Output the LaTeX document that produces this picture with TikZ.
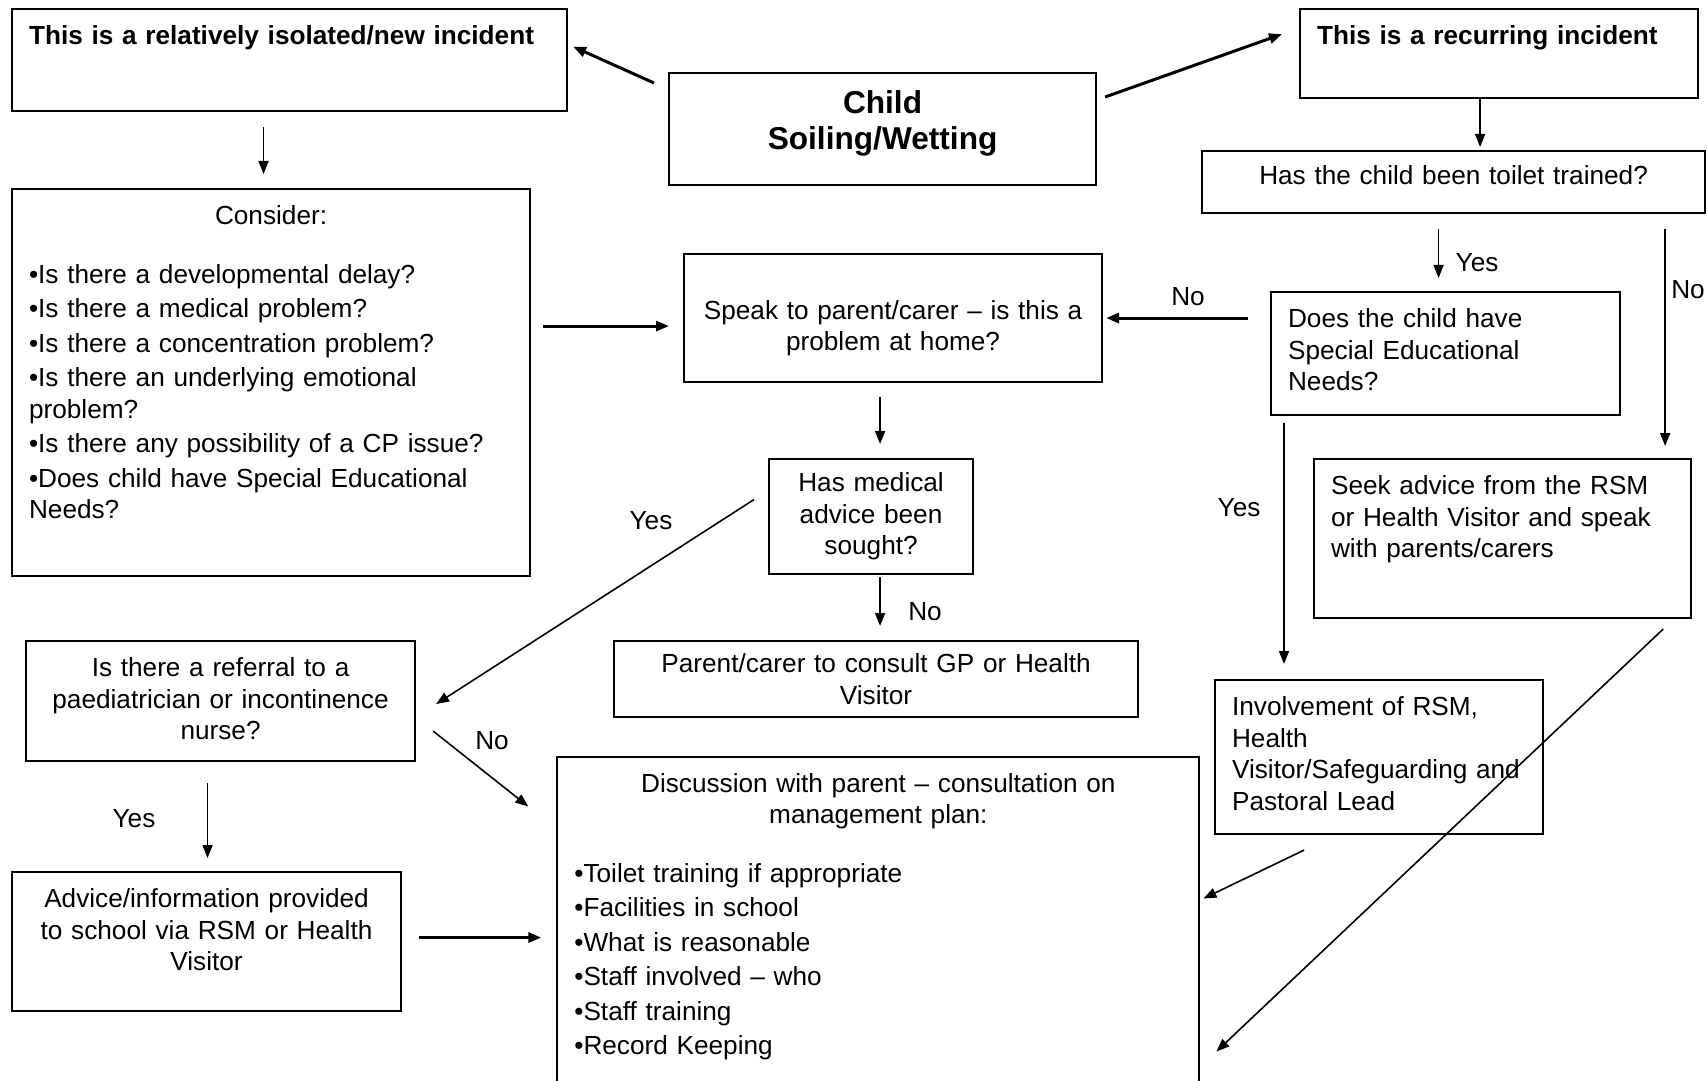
\documentclass[tikz,border=0pt]{standalone}
\usepackage{fontspec}
\setmainfont{Liberation Sans}
\usepackage{tikz}
\usetikzlibrary{arrows.meta, positioning, calc}

\begin{document}
\begin{tikzpicture}[
    font=\fontsize{7.45}{9}\selectfont,
    box/.style 2 args={draw, line width=0.6pt, anchor=north west, inner xsep=0.05cm, inner ysep=0pt, text width=#1cm-0.1cm, minimum height=#2cm, align=center},
    lbox/.style 2 args={box={#1}{#2}, inner xsep=0.17cm, text width=#1cm-0.34cm, align=left},
    topbox/.style 2 args={lbox={#1}{#2}, text height=0.355cm, text depth=#2cm-0.355cm},
    lbl/.style={inner sep=0pt},
    arrow/.style={-{Triangle[length=0.13cm, width=0.1cm]}, line width=0.45pt},
    bold arrow/.style={arrow, line width=0.85pt}
]
    \useasboundingbox (0,0) rectangle (17.07,-10.80);

    % Top row
    \node[topbox={5.55}{1.02}] (iso) at (0.11,-0.076) {\textbf{This is a relatively isolated/new incident}};
    \node[box={4.27}{1.12}, font=\fontsize{9}{10.5}\selectfont\bfseries, text height=0.4cm, text depth=0.72cm] (child) at (6.68,-0.72) {Child\\Soiling/Wetting};
    \node[topbox={3.98}{0.89}] (recur) at (12.99,-0.076) {\textbf{This is a recurring incident}};
    \node[box={5.03}{0.62}, text height=0.33cm, text depth=0.29cm] (toilet) at (12.01,-1.50) {Has the child been toilet trained?};

    % Left column
    \node[topbox={5.18}{3.87}] (consider) at (0.11,-1.88) {\makebox[\linewidth]{Consider:}\\[0.27cm]
        •Is there a developmental delay?\\[0.8pt]
        •Is there a medical problem?\\[0.8pt]
        •Is there a concentration problem?\\[0.8pt]
        •Is there an underlying emotional\\problem?\\[0.8pt]
        •Is there any possibility of a CP issue?\\[0.8pt]
        •Does child have Special Educational\\Needs?};
    \node[topbox={3.89}{1.20}, align=center] (referral) at (0.25,-6.40) {Is there a referral to a\\paediatrician or incontinence\\nurse?};
    \node[topbox={3.89}{1.39}, align=center] (advice) at (0.11,-8.71) {Advice/information provided\\to school via RSM or Health\\Visitor};

    % Middle column
    \node[box={4.18}{1.28}, text height=0.65cm, text depth=0.63cm] (speak) at (6.83,-2.53) {Speak to parent/carer -- is this a\\problem at home?};
    \node[box={2.04}{1.15}] (medical) at (7.68,-4.58) {Has medical\\advice been\\sought?};
    \node[box={5.24}{0.76}] (gp) at (6.13,-6.40) {Parent/carer to consult GP or Health\\Visitor};
    \node[topbox={6.42}{3.50}] (discuss) at (5.563,-7.555) {\makebox[\linewidth]{Discussion with parent -- consultation on}\\
        \makebox[\linewidth]{management plan:}\\[0.27cm]
        •Toilet training if appropriate\\[0.8pt]
        •Facilities in school\\[0.8pt]
        •What is reasonable\\[0.8pt]
        •Staff involved -- who\\[0.8pt]
        •Staff training\\[0.8pt]
        •Record Keeping};

    % Right column
    \node[topbox={3.49}{1.23}] (sen) at (12.70,-2.91) {Does the child have\\Special Educational\\Needs?};
    \node[topbox={3.77}{1.59}] (seek) at (13.13,-4.58) {Seek advice from the RSM\\or Health Visitor and speak\\with parents/carers};
    \node[topbox={3.28}{1.54}] (involve) at (12.14,-6.79) {Involvement of RSM,\\Health\\Visitor/Safeguarding~and\\Pastoral Lead};

    % Labels
    \node[lbl] (yes1) at (14.77,-2.63) {Yes};
    \node[lbl] (no1) at (16.88,-2.90) {No};
    \node[lbl] (no2) at (11.88,-2.97) {No};
    \node[lbl] (yes2) at (6.51,-5.21) {Yes};
    \node[lbl] (no3) at (9.25,-6.12) {No};
    \node[lbl] (yes3) at (12.39,-5.08) {Yes};
    \node[lbl] (no4) at (4.92,-7.41) {No};
    \node[lbl] (yes4) at (1.34,-8.19) {Yes};

    % Connections
    \draw[bold arrow] ([shift={(-0.14,-0.11)}]child.north west) -- ([shift={(0.05,0.13)}]iso.east);
    \draw[bold arrow] ([shift={(0.08,-0.25)}]child.north east) -- ([shift={(-0.17,0.19)}]recur.west);
    \draw[arrow, shorten <=0.15cm, shorten >=0.14cm] ([xshift=-0.26cm]iso.south) -- ([xshift=-0.26cm]iso.south |- consider.north);
    \draw[arrow, shorten >=0.03cm] ([xshift=-0.19cm]recur.south) -- ([xshift=-0.19cm]recur.south |- toilet.north);
    \draw[bold arrow, shorten <=0.12cm, shorten >=0.14cm] ([yshift=-0.08cm]speak.west -| consider.east) -- ([yshift=-0.08cm]speak.west);
    \draw[arrow, shorten <=0.15cm, shorten >=0.13cm] ([xshift=-0.07cm]sen.north |- toilet.south) -- ([xshift=-0.07cm]sen.north);
    \draw[arrow, shorten <=0.15cm, shorten >=0.12cm] ([xshift=-0.27cm]seek.north east |- toilet.south) -- ([xshift=-0.27cm]seek.north east);
    \draw[bold arrow, shorten <=0.22cm, shorten >=0.03cm] (sen.west |- speak.east) -- (speak.east);
    \draw[arrow, shorten <=0.14cm, shorten >=0.14cm] ([xshift=0.09cm]medical.north |- speak.south) -- ([xshift=0.09cm]medical.north);
    \draw[arrow] ([shift={(-0.14,0.17)}]medical.west) -- ([shift={(0.20,-0.03)}]referral.east);
    \draw[arrow, shorten <=0.02cm, shorten >=0.14cm] ([xshift=0.09cm]medical.south) -- ([xshift=0.09cm]medical.south |- gp.north);
    \draw[arrow, shorten <=0.065cm, shorten >=0.15cm] ([xshift=0.14cm]sen.south west) -- ([xshift=0.14cm]sen.south west |- involve.north);
    \draw[arrow] ([shift={(0.17,-0.30)}]referral.east) -- ([shift={(-0.28,-0.51)}]discuss.north west);
    \draw[arrow, shorten <=0.21cm, shorten >=0.13cm] ([xshift=-0.13cm]referral.south) -- ([xshift=-0.13cm]referral.south |- advice.north);
    \draw[bold arrow, shorten <=0.17cm, shorten >=0.15cm] ([yshift=0.04cm]advice.east) -- ([yshift=0.04cm]advice.east -| discuss.west);
    \draw[arrow] ([shift={(-0.75,-0.15)}]involve.south) -- ([shift={(0.03,-1.43)}]discuss.north east);
    \draw[arrow] ([shift={(-0.29,-0.10)}]seek.south east) -- ([shift={(0.16,-2.96)}]discuss.north east);
\end{tikzpicture}
\end{document}
